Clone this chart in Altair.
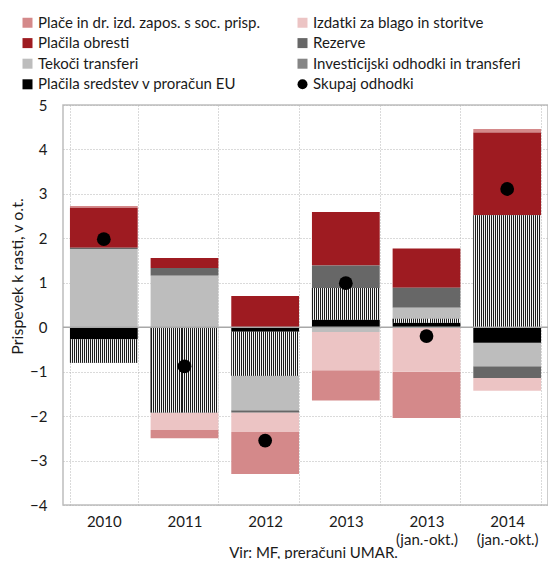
import altair as alt
import pandas as pd

years = ["2010", "2011", "2012", "2013", "2013|(jan.-okt.)", "2014|(jan.-okt.)"]

categories = [
    "Plače in dr. izd. zapos. s soc. prisp.",
    "Izdatki za blago in storitve",
    "Plačila obresti",
    "Rezerve",
    "Tekoči transferi",
    "Investicijski odhodki in transferi",
    "Plačila sredstev v proračun EU",
]
total_label = "Skupaj odhodki"

# stacking order from the zero line outwards
stack_order = [6, 5, 4, 3, 2, 1, 0]

place = [0.04, -0.19, -0.94, -0.68, -1.04, 0.08]
izdatki = [0.0, -0.39, -0.44, -0.86, -1.00, -0.29]
obresti = [0.90, 0.23, 0.70, 1.20, 0.88, 1.86]
rezerve = [0.03, 0.17, -0.05, 0.51, 0.45, -0.26]
tekoci = [1.76, 1.16, -0.78, -0.11, 0.25, -0.53]
investicijski = [-0.53, -1.92, -0.99, 0.71, 0.09, 2.52]
eu = [-0.27, 0.0, -0.10, 0.17, 0.10, -0.35]
skupaj = [1.98, -0.88, -2.55, 0.99, -0.20, 3.11]

series = [place, izdatki, obresti, rezerve, tekoci, investicijski, eu]

colors = ["#D4898A", "#ECC4C4", "#9E1B21", "#676767", "#BDBDBD", "#858585", "#000000"]
total_color = "#000000"

rows = []
for cat, vals, o in zip(categories, series, stack_order):
    for y, v in zip(years, vals):
        rows.append({"year": y, "cat": cat, "value": v, "ord": o})
df = pd.DataFrame(rows)
df_tot = pd.DataFrame({"year": years, "total": skupaj, "cat": [total_label] * len(years)})
df_zero = pd.DataFrame({"z": [0]})

all_cats = categories + [total_label]
all_colors = colors + [total_color]
shape_of = {c: "square" for c in categories}
shape_of[total_label] = "circle"

# legend is filled column by column: reorder so that it reads row by row
legend_order = [0, 2, 4, 6, 1, 3, 5, 7]
leg_domain = [all_cats[i] for i in legend_order]
leg_colors = [all_colors[i] for i in legend_order]
leg_shapes = [shape_of[c] for c in leg_domain]

# fine vertical hatch to imitate the dotted pattern
def stripe_stops(n, frac):
    stops = []
    for k in range(n):
        a = k / n
        b = (k + frac) / n
        c = (k + 1) / n
        stops += [
            alt.GradientStop(color="#1c1c1c", offset=a),
            alt.GradientStop(color="#1c1c1c", offset=b),
            alt.GradientStop(color="#f4f4f4", offset=b),
            alt.GradientStop(color="#f4f4f4", offset=c),
        ]
    return stops

hatch = alt.LinearGradient(gradient="linear", stops=stripe_stops(34, 0.5), x1=0, x2=1, y1=0, y2=0)

legend = alt.Legend(
    title=None,
    orient="none",
    legendX=-43,
    legendY=-90,
    columns=2,
    columnPadding=34,
    rowPadding=4.6,
    symbolSize=100,
    labelFontSize=15,
    labelFont="Lato",
    labelColor="#1a1a1a",
    labelOffset=3,
    labelLimit=400,
    symbolStrokeWidth=0,
)

x_enc = alt.X(
    "year:N",
    scale=alt.Scale(domain=years, paddingInner=0.16, paddingOuter=0.086),
    axis=alt.Axis(
        title="Vir: MF, preračuni UMAR.",
        titleX=250,
        titleY=52,
        titleAlign="center",
        titleBaseline="alphabetic",
        titleFontSize=15,
        titleFontWeight="normal",
        titleFont="Lato",
        titleColor="#1a1a1a",
        labelExpr="split(datum.label, '|')",
        labelAngle=0,
        labelLineHeight=18,
        labelPadding=9,
        labelFontSize=15,
        labelFont="Lato",
        labelColor="#1a1a1a",
        ticks=False,
        domain=False,
        grid=True,
        tickBand="extent",
    ),
)

y_scale = alt.Scale(domain=[-4, 5], nice=False, zero=False)
y_axis = alt.Axis(
    title="Prispevek k rasti, v o.t.",
    titleX=-46,
    titleY=171,
    titleAngle=-90,
    titleAlign="center",
    titleBaseline="middle",
    titleFontSize=16,
    titleFontWeight="normal",
    titleFont="Lato",
    titleColor="#1a1a1a",
    values=list(range(-4, 6)),
    labelPadding=16,
    labelFontSize=15,
    labelFont="Lato",
    labelColor="#1a1a1a",
    ticks=False,
    domain=False,
    grid=True,
)

base = alt.Chart(df).transform_stack(
    stack="value",
    groupby=["year"],
    as_=["y0", "y1"],
    sort=[alt.SortField("ord", order="ascending")],
    offset="zero",
)

color_scale = alt.Scale(domain=leg_domain, range=leg_colors)

bars = base.mark_bar().encode(
    x=x_enc,
    y=alt.Y("y0:Q", scale=y_scale, axis=y_axis),
    y2="y1:Q",
    color=alt.Color("cat:N", scale=color_scale, legend=legend),
)

inv = base.transform_filter(alt.datum.cat == categories[5]).mark_bar(fill=hatch).encode(
    x=alt.X("year:N"),
    y=alt.Y("y0:Q"),
    y2="y1:Q",
)

zero = alt.Chart(df_zero).mark_rule(color="#A8A8A8", strokeWidth=1.5).encode(y=alt.Y("z:Q"))

dots = alt.Chart(df_tot).mark_point(filled=True, size=190, opacity=1).encode(
    x=alt.X("year:N"),
    y=alt.Y("total:Q"),
    color=alt.Color("cat:N", scale=color_scale, legend=legend),
    shape=alt.Shape("cat:N", scale=alt.Scale(domain=leg_domain, range=leg_shapes), legend=legend),
)

chart = (
    alt.layer(bars, inv, zero, dots)
    .properties(
        width=485,
        height=400,
        autosize=alt.AutoSizeParams(type="none"),
        padding={"left": 55, "top": 97, "right": 0, "bottom": 54},
    )
    .configure_view(stroke="#BDBDBD", strokeWidth=1.5)
    .configure_axis(gridColor="#B5B5B5", gridDash=[1, 2], gridWidth=1)
)

chart.save("out.html", embed_options={"renderer": "svg", "actions": False})
